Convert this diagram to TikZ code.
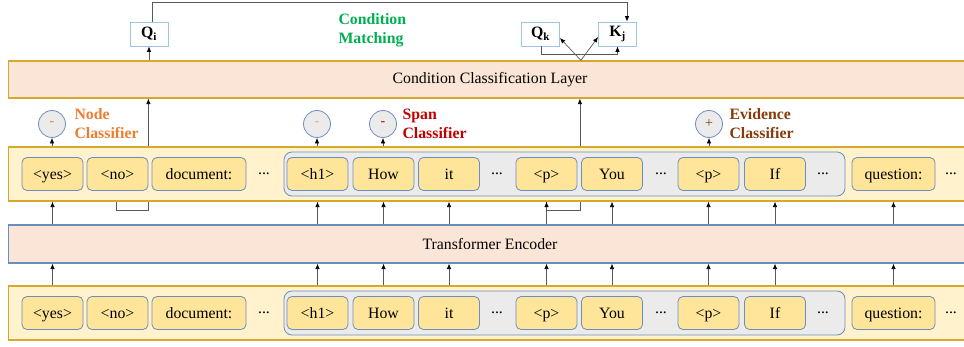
\documentclass[tikz,border=0pt]{standalone}
\usepackage{fontspec}
\setmainfont{Liberation Serif}
\usetikzlibrary{arrows.meta, backgrounds}
\definecolor{bandFill}{HTML}{FFF2CC}
\definecolor{bandLine}{HTML}{D6A82E}
\definecolor{layerFill}{HTML}{FBE5D6}
\definecolor{encLine}{HTML}{6C8EBF}
\definecolor{tokFill}{HTML}{FFE599}
\definecolor{tokLine}{HTML}{6C8EBF}
\definecolor{grpFill}{HTML}{EBEBEB}
\definecolor{qLine}{HTML}{9DC3E6}
\definecolor{nodeCol}{HTML}{ED7D31}
\definecolor{spanCol}{HTML}{C00000}
\definecolor{evidCol}{HTML}{843C0C}
\definecolor{matchCol}{HTML}{00B050}
\definecolor{wireCol}{HTML}{595959}

\begin{document}
\begin{tikzpicture}[x=1pt, y=-1pt, font=\fontsize{15.8}{19}\selectfont,
    band/.style={draw=bandLine, fill=bandFill, line width=1.2pt, anchor=west, minimum width=1000pt, minimum height=54pt, inner sep=0pt},
    layer/.style={fill=layerFill, line width=1.2pt, anchor=west, minimum width=1000pt, inner sep=0pt},
    tok/.style={draw=tokLine, fill=tokFill, rounded corners=5pt, line width=0.8pt, minimum height=33pt, inner sep=0pt, text height=11pt, text depth=0pt},
    grp/.style={draw=tokLine, fill=grpFill, rounded corners=8pt, line width=0.8pt, inner sep=0pt},
    cls/.style={circle, draw=encLine, fill=grpFill, line width=0.8pt, minimum size=27pt, inner sep=0pt, font=\fontsize{14}{14}\selectfont},
    lbl/.style={align=left, anchor=west, font=\fontsize{15.8}{19}\selectfont\bfseries},
    qbox/.style={draw=qLine, fill=white, line width=0.8pt, minimum width=38pt, minimum height=24pt, inner sep=0pt, font=\fontsize{15.8}{15.8}\selectfont\bfseries},
    arr/.style={draw=wireCol, line width=0.7pt, -{Latex[length=5.5pt,width=4.5pt,color=black]}},
    wire/.style={draw=wireCol, line width=0.7pt}]
    \useasboundingbox (0,0) rectangle (964,347);

    % layers
    \node[layer, draw=bandLine, minimum height=37pt] (cll) at (8,79.5) {};
    \node (cll-t) at (490,79.5) {Condition Classification Layer};
    \node[band] (mband) at (8,174) {};
    \node[layer, draw=encLine, minimum height=38pt] (enc) at (8,244) {};
    \node (enc-t) at (490,244) {Transformer Encoder};
    \node[band] (bband) at (8,313) {};

    % tokens, middle and bottom rows
    \foreach \rw/\y in {m/174, b/313} {
        \node[grp, minimum width=561pt, minimum height=44pt] (\rw-grp) at (564.5,\y) {};
        \foreach \nm/\cx/\tw/\tx in {yes/52.5/61/{<yes>}, no/117.5/61/{<no>}, doc/199/94/{document:},
                h1/317.5/61/{<h1>}, how/383.5/61/{How}, it/449/61/{it},
                p1/546.5/61/{<p>}, you/612/61/{You}, p2/708.5/61/{<p>}, if/775/61/{If},
                q/893.5/83/{question:}}
            \node[tok, minimum width=\tw pt] (\rw-\nm) at (\cx,\y) {\tx};
        \foreach \i/\cx in {1/264, 2/497, 3/661, 4/823, 5/951}
            \node (\rw-d\i) at (\cx,\y) {...};
    }

    % arrows between the layers
    \foreach \nm in {yes,h1,how,it,p1,you,p2,if,q} {
        \draw[arr] (bband.north -| b-\nm) -- (enc.south -| b-\nm);
        \draw[arr] (enc.north -| m-\nm) -- (mband.south -| m-\nm);
    }

    % links into the classification layer, behind the band
    \begin{pgfonlayer}{background}
        \draw[arr] ([xshift=-1.5pt]m-no.south) -- ++(0,19) -| (m-no.east |- cll.south);
        \draw[arr] (m-p1.south) -- ++(0,19) -| ([xshift=2.5pt]m-p1.east |- cll.south);
    \end{pgfonlayer}

    % classifiers
    \node[cls, text=nodeCol] (c-node) at (52,124) {-};
    \node[cls, text=nodeCol!70] (c-span1) at (317,124) {-};
    \node[cls, text=spanCol] (c-span2) at (383,124) {-};
    \node[cls, text=evidCol] (c-evid) at (709,124) {+};
    \node[lbl, text=nodeCol] (l-node) at (71,124) {Node\\Classifier};
    \node[lbl, text=spanCol] (l-span) at (399,124) {Span\\Classifier};
    \node[lbl, text=evidCol] (l-evid) at (726,124) {Evidence\\Classifier};
    \draw[arr] (mband.north -| c-node) -- (c-node);
    \draw[arr] (mband.north -| c-span1) -- (c-span1);
    \draw[arr] (mband.north -| c-span2) -- (c-span2);
    \draw[arr] (mband.north -| c-evid) -- (c-evid);

    % condition matching
    \node[qbox] (qi) at (149,34) {Q\textsubscript{i}};
    \node[qbox] (qk) at (540.5,34) {Q\textsubscript{k}};
    \node[qbox] (kj) at (617.5,34) {K\textsubscript{j}};
    \node[lbl, text=matchCol] (match) at (335,30) {Condition\\Matching};
    \coordinate (fan) at ([xshift=3.5pt]cll.north -| m-p1.east);
    \draw[arr] (cll.north -| qi) -- (qi);
    \draw[arr] ([xshift=3pt]qi.north) -- ++(0,-19) -| ([xshift=9.5pt]kj.north);
    \draw[arr] (fan) -- ([yshift=-4pt]qk.east);
    \draw[arr] (fan) -- ([yshift=-3pt]kj.west);
    \draw[arr] ([xshift=0.5pt]qk.south) -- ++(0,8) -| (kj.south);
\end{tikzpicture}
\end{document}
